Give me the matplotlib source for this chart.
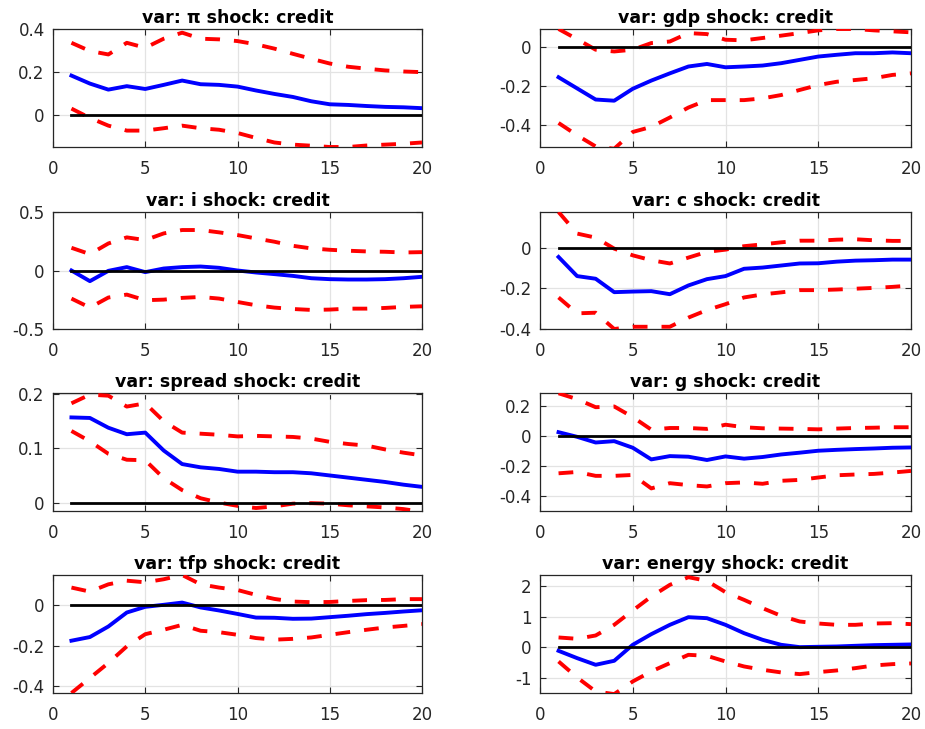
import matplotlib
matplotlib.use("Agg")
import matplotlib.pyplot as plt
import numpy as np

plt.rcParams['font.family'] = ['DejaVu Sans']

horizon = list(range(1, 21))

titles = [
    "var: \u03c0 shock: credit",
    "var: gdp shock: credit",
    "var: i shock: credit",
    "var: c shock: credit",
    "var: spread shock: credit",
    "var: g shock: credit",
    "var: tfp shock: credit",
    "var: energy shock: credit",
]

# median responses
irf_pi = [0.184, 0.147, 0.119, 0.135, 0.122, 0.141, 0.161, 0.144, 0.141, 0.133,
          0.115, 0.099, 0.085, 0.065, 0.051, 0.048, 0.043, 0.039, 0.037, 0.033]
irf_gdp = [-0.156, -0.213, -0.270, -0.276, -0.215, -0.173, -0.136, -0.101, -0.088, -0.105,
           -0.101, -0.096, -0.084, -0.067, -0.050, -0.041, -0.033, -0.033, -0.029, -0.033]
irf_i = [0.000, -0.091, -0.003, 0.029, -0.014, 0.017, 0.029, 0.034, 0.023, 0.000,
         -0.017, -0.031, -0.046, -0.066, -0.074, -0.077, -0.077, -0.074, -0.066, -0.054]
irf_c = [-0.046, -0.140, -0.153, -0.219, -0.216, -0.214, -0.229, -0.186, -0.155, -0.140,
         -0.104, -0.098, -0.088, -0.078, -0.077, -0.069, -0.064, -0.062, -0.059, -0.059]
irf_spread = [0.157, 0.156, 0.138, 0.126, 0.129, 0.096, 0.071, 0.065, 0.062, 0.057,
              0.057, 0.056, 0.056, 0.054, 0.050, 0.046, 0.042, 0.038, 0.033, 0.029]
irf_g = [0.027, -0.004, -0.042, -0.033, -0.077, -0.155, -0.133, -0.137, -0.159, -0.135,
         -0.150, -0.139, -0.122, -0.110, -0.097, -0.091, -0.086, -0.082, -0.077, -0.075]
irf_tfp = [-0.175, -0.157, -0.105, -0.036, -0.008, 0.002, 0.013, -0.011, -0.026, -0.043,
           -0.061, -0.062, -0.067, -0.066, -0.059, -0.052, -0.044, -0.038, -0.031, -0.025]
irf_energy = [-0.108, -0.344, -0.559, -0.430, 0.086, 0.430, 0.731, 0.978, 0.946, 0.731,
              0.462, 0.247, 0.086, 0.011, 0.022, 0.032, 0.054, 0.075, 0.086, 0.097]

# upper credible bands
up_pi = [0.336, 0.298, 0.282, 0.336, 0.313, 0.355, 0.383, 0.355, 0.352, 0.344,
         0.329, 0.309, 0.285, 0.262, 0.240, 0.225, 0.216, 0.208, 0.203, 0.200]
up_gdp = [0.091, 0.039, -0.015, -0.024, -0.015, 0.019, 0.027, 0.070, 0.065, 0.036,
          0.033, 0.045, 0.057, 0.070, 0.084, 0.091, 0.091, 0.084, 0.079, 0.074]
up_i = [0.194, 0.140, 0.231, 0.283, 0.260, 0.317, 0.346, 0.346, 0.326, 0.303,
        0.274, 0.246, 0.211, 0.189, 0.177, 0.169, 0.163, 0.160, 0.154, 0.157]
up_c = [0.175, 0.069, 0.049, -0.005, -0.038, -0.062, -0.078, -0.049, -0.021, -0.010,
        0.007, 0.016, 0.026, 0.034, 0.034, 0.039, 0.041, 0.036, 0.033, 0.033]
up_spread = [0.183, 0.199, 0.197, 0.177, 0.183, 0.150, 0.129, 0.127, 0.125, 0.122,
             0.123, 0.122, 0.121, 0.118, 0.112, 0.108, 0.105, 0.098, 0.092, 0.087]
up_g = [0.287, 0.248, 0.194, 0.199, 0.128, 0.044, 0.055, 0.055, 0.049, 0.077,
        0.060, 0.053, 0.051, 0.049, 0.046, 0.051, 0.055, 0.057, 0.060, 0.060]
up_tfp = [0.087, 0.067, 0.103, 0.121, 0.113, 0.128, 0.149, 0.103, 0.087, 0.075,
          0.051, 0.031, 0.018, 0.015, 0.016, 0.021, 0.025, 0.026, 0.030, 0.030]
up_energy = [0.323, 0.280, 0.387, 0.731, 1.194, 1.645, 2.022, 2.269, 2.151, 1.785,
             1.538, 1.269, 1.022, 0.839, 0.774, 0.731, 0.731, 0.774, 0.785, 0.753]

# lower credible bands
lo_pi = [0.031, -0.012, -0.048, -0.071, -0.071, -0.060, -0.048, -0.060, -0.067, -0.082,
         -0.105, -0.126, -0.136, -0.141, -0.147, -0.147, -0.140, -0.136, -0.132, -0.126]
lo_gdp = [-0.390, -0.453, -0.510, -0.522, -0.436, -0.410, -0.362, -0.311, -0.273, -0.273,
          -0.273, -0.264, -0.247, -0.221, -0.196, -0.179, -0.170, -0.161, -0.144, -0.136]
lo_i = [-0.240, -0.317, -0.231, -0.206, -0.254, -0.249, -0.234, -0.226, -0.240, -0.269,
        -0.297, -0.317, -0.329, -0.337, -0.334, -0.326, -0.326, -0.320, -0.311, -0.306]
lo_c = [-0.245, -0.323, -0.320, -0.400, -0.389, -0.389, -0.389, -0.344, -0.307, -0.278,
        -0.245, -0.230, -0.220, -0.209, -0.209, -0.206, -0.202, -0.198, -0.193, -0.186]
lo_spread = [0.132, 0.113, 0.090, 0.079, 0.078, 0.045, 0.023, 0.008, 0.000, -0.006,
             -0.010, -0.007, -0.002, -0.001, -0.002, -0.005, -0.007, -0.009, -0.012, -0.017]
lo_g = [-0.248, -0.239, -0.265, -0.265, -0.259, -0.349, -0.314, -0.327, -0.336, -0.314,
        -0.309, -0.318, -0.298, -0.292, -0.276, -0.261, -0.256, -0.252, -0.243, -0.232]
lo_tfp = [-0.433, -0.359, -0.285, -0.203, -0.143, -0.121, -0.097, -0.126, -0.133, -0.146,
          -0.162, -0.170, -0.166, -0.159, -0.146, -0.133, -0.121, -0.110, -0.102, -0.093]
lo_energy = [-0.452, -0.968, -1.420, -1.505, -1.097, -0.774, -0.505, -0.237, -0.269, -0.452,
             -0.613, -0.720, -0.806, -0.860, -0.796, -0.742, -0.667, -0.581, -0.538, -0.516]

medians = [irf_pi, irf_gdp, irf_i, irf_c, irf_spread, irf_g, irf_tfp, irf_energy]
uppers = [up_pi, up_gdp, up_i, up_c, up_spread, up_g, up_tfp, up_energy]
lowers = [lo_pi, lo_gdp, lo_i, lo_c, lo_spread, lo_g, lo_tfp, lo_energy]

y_limits = [(-0.147, 0.40), (-0.513, 0.091), (-0.5, 0.5), (-0.4, 0.175),
            (-0.0155, 0.202), (-0.5, 0.289), (-0.433, 0.149), (-1.47, 2.34)]
y_ticks = [[0, 0.2, 0.4], [-0.4, -0.2, 0], [-0.5, 0, 0.5], [-0.4, -0.2, 0],
           [0, 0.1, 0.2], [-0.4, -0.2, 0, 0.2], [-0.4, -0.2, 0], [-1, 0, 1, 2]]
x_ticks = [0, 5, 10, 15, 20]

W, H = 925, 729
fig = plt.figure(figsize=(W / 100, H / 100), dpi=100)

col_px = [(53, 422), (540, 911)]
row_px = [(29, 147), (212, 329), (393, 511), (575, 693)]

axis_col = '#262626'
band_dash = (3.8, 3.6)


def fmt(v):
    if abs(v) < 1e-12:
        return '0'
    return '%g' % v


for k in range(8):
    r, c = divmod(k, 2)
    x0, x1 = col_px[c]
    y0, y1 = row_px[r]
    ax = fig.add_axes([x0 / W, 1 - y1 / H, (x1 - x0) / W, (y1 - y0) / H])
    ax.plot(horizon, medians[k], color='#0000ff', lw=2.8, solid_joinstyle='round', zorder=3)
    ax.plot(horizon, uppers[k], color='#ff0000', lw=2.8, dashes=band_dash, zorder=3)
    ax.plot(horizon, lowers[k], color='#ff0000', lw=2.8, dashes=band_dash, zorder=3)
    ax.plot(horizon, np.zeros(len(horizon)), color='black', lw=2.0, zorder=4)
    ax.set_xlim(0, 20)
    ax.set_ylim(*y_limits[k])
    ax.set_xticks(x_ticks)
    ax.set_yticks(y_ticks[k])
    ax.set_yticklabels([fmt(v) for v in y_ticks[k]])
    ax.grid(True, color='#e3e3e3', lw=0.9, zorder=0)
    ax.set_axisbelow(True)
    for sp in ax.spines.values():
        sp.set_color(axis_col)
        sp.set_linewidth(0.9)
    ax.tick_params(direction='in', length=4, width=0.8, color=axis_col,
                   labelcolor=axis_col, labelsize=12, top=True, right=True)
    ax.tick_params(axis='x', pad=9)
    ax.tick_params(axis='y', pad=6)
    ax.set_title(titles[k], fontsize=12.5, fontweight='bold', pad=4)

fig.savefig('out.png', dpi=100)
